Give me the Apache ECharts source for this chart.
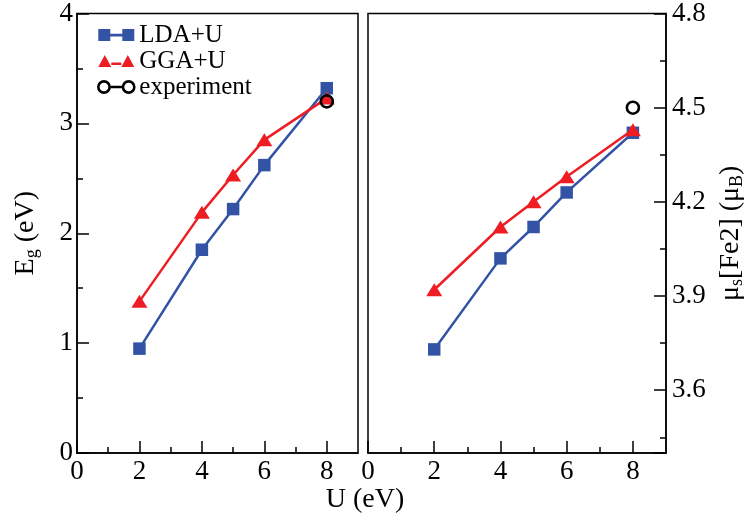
<!DOCTYPE html>
<html>
<head>
<meta charset="utf-8">
<script src="https://cdn.jsdelivr.net/npm/echarts@6/dist/echarts.min.js"></script>
<style>
  html, body { margin: 0; padding: 0; background: #fff; }
  #main { width: 747px; height: 528px; }
</style>
</head>
<body>
<div id="main"></div>
<script>
// U values (eV) for the calculated points
const uVals = [2, 4, 5, 6, 8];
// band gap E_g (eV), left panel
const ldaGap = [0.95, 1.85, 2.22, 2.62, 3.32];
const ggaGap = [1.38, 2.19, 2.53, 2.85, 3.23];
const expU = [8];
const expGap = [3.2];
// spin moment on Fe2 (mu_B), right panel
const ldaMom = [3.73, 4.02, 4.12, 4.23, 4.42];
const ggaMom = [3.92, 4.12, 4.20, 4.28, 4.43];
const expMom = [4.5];
// ticks
const uMajor = [0, 2, 4, 6, 8];
const uMinor = [1, 3, 5, 7];
const momRange = [3.4, 4.8];
const momStep = 0.3; // labelled ticks 4.8, 4.5 ... 3.6, counted down from the top

const BLUE = '#3353a5';
const RED = '#ee1d24';
const FONT = 'Liberation Serif';
const TICK_FS = 27;
const TITLE_FS = 28;

const chart = echarts.init(document.getElementById('main'));

const pairs = (xs, ys) => xs.map((x, i) => [x, ys[i]]);
const blackLine = () => ({ color: '#000', width: 1.5 });
const momSpan = +(momRange[1] - momRange[0]).toFixed(2);

// grid 0 = right panel (moment), grid 1 = left panel (gap)
function xAxisPair(grid) {
  return [
    {
      gridIndex: grid, type: 'value', position: 'bottom', min: 0, max: 9,
      axisLine: { show: true, onZero: false, lineStyle: blackLine() },
      axisTick: { show: true, inside: true, length: 12, lineStyle: blackLine(), customValues: uMajor },
      axisLabel: { customValues: uMajor, fontFamily: FONT, fontSize: TICK_FS, color: '#000', margin: 5 },
      splitLine: { show: false }
    },
    {
      gridIndex: grid, type: 'value', position: 'bottom', min: 0, max: 9,
      axisLine: { show: false, onZero: false },
      axisTick: { show: true, inside: true, length: 6, lineStyle: blackLine(), customValues: uMinor },
      axisLabel: { show: false },
      splitLine: { show: false }
    }
  ];
}

const nameRich = {
  a: { fontFamily: FONT, fontSize: TITLE_FS, color: '#000' },
  s: { fontFamily: FONT, fontSize: 18, color: '#000', padding: [12, 0, 0, 0] }
};

const option = {
  animation: false,
  backgroundColor: '#fff',
  title: {
    text: 'U (eV)', left: 365, top: 486, textAlign: 'center', padding: 0,
    textStyle: { fontFamily: FONT, fontSize: TITLE_FS, fontWeight: 'normal', color: '#000' }
  },
  legend: {
    orient: 'vertical', left: 97, top: 22, padding: 0,
    itemWidth: 36, itemHeight: 12, itemGap: 0,
    selectedMode: false,
    textStyle: { fontFamily: FONT, fontSize: 25, lineHeight: 26, color: '#000' },
    data: [
      { name: 'LDA+U', icon: 'path://M0,0h12v12h-12z M12,4.8h12v2.6h-12z M24,0h12v12h-12z',
        itemStyle: { color: BLUE, borderWidth: 0 } },
      { name: 'GGA+U', icon: 'path://M0,12L6.5,0L13,12z M13,7.4h10v2.6h-10z M23,12L29.5,0L36,12z',
        itemStyle: { color: RED, borderWidth: 0 } },
      { name: 'experiment', icon: 'path://M0.5,6a5.5,5.5 0 1,0 11,0a5.5,5.5 0 1,0 -11,0 M11.5,6H24.5 M24.5,6a5.5,5.5 0 1,0 11,0a5.5,5.5 0 1,0 -11,0',
        itemStyle: { color: 'transparent', borderColor: '#000', borderWidth: 2.6 } }
    ]
  },
  grid: [
    { left: 368, top: 13, width: 298, height: 440, show: true, borderColor: '#000', borderWidth: 1.5 },
    { left: 77, top: 13, width: 281, height: 440, show: true, borderColor: '#000', borderWidth: 1.5 }
  ],
  xAxis: [].concat(xAxisPair(0), xAxisPair(1)),
  yAxis: [
    // tick axis on the right edge: distance below the top value, so ticks fall on 4.8, 4.5 ... 3.6
    {
      gridIndex: 0, type: 'value', position: 'right', inverse: true, min: 0, max: momSpan, interval: momStep,
      name: '{a|μ}{s|s}{a|[Fe2] (μ}{s|B}{a|)}', nameLocation: 'middle', nameGap: 50,
      nameTextStyle: { rich: nameRich },
      axisLine: { show: true, onZero: false, lineStyle: blackLine() },
      axisTick: { show: true, inside: true, length: 12, lineStyle: blackLine() },
      minorTick: { show: true, splitNumber: 2, length: 6, lineStyle: blackLine() },
      axisLabel: {
        fontFamily: FONT, fontSize: TICK_FS, color: '#000', margin: 6,
        showMaxLabel: false,
        formatter: v => (momRange[1] - v).toFixed(1)
      },
      splitLine: { show: false }
    },
    // value axis of the right panel, carries the data; its edge is drawn by the grid border
    {
      gridIndex: 0, type: 'value', position: 'left', min: momRange[0], max: momRange[1],
      axisLine: { show: false, onZero: false },
      axisTick: { show: false },
      axisLabel: { show: false },
      splitLine: { show: false }
    },
    {
      gridIndex: 1, type: 'value', position: 'left', min: 0, max: 4, interval: 1,
      name: '{a|E}{s|g}{a| (eV)}', nameLocation: 'middle', nameGap: 36,
      nameTextStyle: { rich: nameRich },
      axisLine: { show: true, onZero: false, lineStyle: blackLine() },
      axisTick: { show: true, inside: true, length: 12, lineStyle: blackLine() },
      minorTick: { show: true, splitNumber: 2, length: 6, lineStyle: blackLine() },
      axisLabel: { fontFamily: FONT, fontSize: TICK_FS, color: '#000', margin: 4 },
      splitLine: { show: false }
    }
  ],
  series: [
    {
      name: 'LDA+U', type: 'line', xAxisIndex: 2, yAxisIndex: 2,
      data: pairs(uVals, ldaGap), symbol: 'rect', symbolSize: 12.5,
      color: BLUE, lineStyle: { width: 2.5 }, itemStyle: { borderWidth: 0 }, z: 2
    },
    {
      name: 'GGA+U', type: 'line', xAxisIndex: 2, yAxisIndex: 2,
      data: pairs(uVals, ggaGap), symbol: 'triangle', symbolSize: [16, 13],
      color: RED, lineStyle: { width: 2.5 }, itemStyle: { borderWidth: 0 }, z: 3
    },
    {
      name: 'experiment', type: 'line', xAxisIndex: 2, yAxisIndex: 2,
      data: pairs(expU, expGap), symbol: 'circle', symbolSize: 12,
      itemStyle: { color: 'transparent', borderColor: '#000', borderWidth: 2.6 },
      lineStyle: { color: '#000', width: 2.5 }, z: 4
    },
    {
      name: 'LDA+U', type: 'line', xAxisIndex: 0, yAxisIndex: 1,
      data: pairs(uVals, ldaMom), symbol: 'rect', symbolSize: 12.5,
      color: BLUE, lineStyle: { width: 2.5 }, itemStyle: { borderWidth: 0 }, z: 2
    },
    {
      name: 'GGA+U', type: 'line', xAxisIndex: 0, yAxisIndex: 1,
      data: pairs(uVals, ggaMom), symbol: 'triangle', symbolSize: [16, 13],
      color: RED, lineStyle: { width: 2.5 }, itemStyle: { borderWidth: 0 }, z: 3
    },
    {
      name: 'experiment', type: 'line', xAxisIndex: 0, yAxisIndex: 1,
      data: pairs(expU, expMom), symbol: 'circle', symbolSize: 12,
      itemStyle: { color: 'transparent', borderColor: '#000', borderWidth: 2.6 },
      lineStyle: { color: '#000', width: 2.5 }, z: 4
    }
  ]
};

chart.setOption(option);
</script>
</body>
</html>
